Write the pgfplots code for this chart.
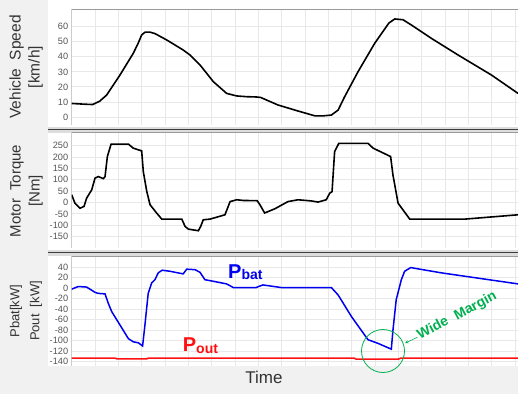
\documentclass[border=0pt]{standalone}
\usepackage{pgfplots}
\pgfplotsset{compat=1.18}
\usetikzlibrary{arrows.meta}
\usepackage{fontspec}
\setmainfont{Liberation Sans}
\definecolor{gridc}{HTML}{E8E8E8}
\definecolor{bgc}{HTML}{F1F1F1}
\definecolor{bandc}{HTML}{DDDDDD}
\definecolor{sepc}{HTML}{3C3C3C}
\definecolor{axisc}{HTML}{9A9A9A}
\definecolor{tickc}{HTML}{555555}
\definecolor{labc}{HTML}{333333}
\definecolor{pbat}{HTML}{0000F0}
\definecolor{pout}{HTML}{FF1010}
\definecolor{grn}{HTML}{00B050}
\pgfplotsset{
  panel/.style={
    scale only axis,
    anchor=north west,
    width=446.33pt,
    xmin=0, xmax=19.13,
    xtick={0,...,19}, xticklabels={},
    grid=major,
    major grid style={draw=gridc, line width=0.9pt},
    axis line style={draw=none},
    major tick length=0pt,
    tick style={draw=none},
    yticklabel style={font=\fontsize{9.2}{10}\selectfont, text=tickc},
    /pgf/number format/assume math mode=true,
  }
}
\begin{document}
\begin{tikzpicture}[x=1pt,y=1pt]
\useasboundingbox (0,0) rectangle (518,394);
\fill[bgc] (0,0) rectangle (518,394);
\fill[white] (48,394) rectangle (518,28);
% separators
\fill[bandc] (48,394-132.7) rectangle (518,394-126.8);
\draw[sepc, line width=1.6pt] (48,394-129.5) -- (518,394-129.5);
\fill[bandc] (48,394-255.7) rectangle (518,394-249.8);
\draw[sepc, line width=1.6pt] (48,394-252.6) -- (518,394-252.6);

% ---------- Panel 1: vehicle speed
\begin{axis}[panel, at={(71.67pt,384.5pt)}, height=115.5pt,
  ymin=-5.3, ymax=71.4, ytick={0,10,...,60}]
\addplot[black, line width=1.6pt] coordinates {
(0,9)(0.57,8.5)(0.9,8.3)(1.2,10.5)(1.5,14.6)(2.07,27.9)(2.64,42.3)(2.85,49)(3.0,54.5)
(3.15,56.4)(3.35,56.4)(3.57,55.4)(4.07,51.2)(4.78,44.5)(5.07,41.2)(5.5,34.6)
(6.07,23.5)(6.64,15.7)(7.07,14)(7.5,13.5)(7.93,13.3)(8.1,13)(8.84,8)(9.7,4)
(10.42,0.8)(10.8,0.8)(11.13,1.3)(11.42,4.6)(11.7,13.5)(12.27,30)(12.99,49)
(13.6,62.5)(13.85,65.1)(14.2,64.6)(14.56,61.1)(15.41,52.3)(16.56,41.2)(17.99,27.9)(19.13,15.7)
};
\draw[axisc, line width=0.8pt] (rel axis cs:0,0) -- (rel axis cs:0,1) -- (rel axis cs:1,1);
\end{axis}

% ---------- Panel 2: motor torque
\begin{axis}[panel, at={(71.67pt,262pt)}, height=116pt,
  ymin=-200, ymax=310, ytick={-150,-100,...,250}]
\addplot[black, line width=1.6pt] coordinates {
(0,34)(0.14,-3)(0.36,-25)(0.53,-17)(0.64,19)(0.86,56)(1.0,107)(1.14,114)(1.36,105)
(1.43,114)(1.53,202)(1.69,257)(2.43,257)(2.64,239)(3.0,227)(3.07,136)(3.22,48)
(3.36,-10)(3.64,-46)(3.86,-73)(4.72,-73)(4.86,-105)(5.0,-117)(5.43,-124)(5.53,-105)
(5.64,-76)(5.93,-73)(6.57,-54)(6.79,4)(7.07,12)(7.36,9)(7.95,8)(8.07,-10)(8.27,-46)
(8.70,-28)(9.27,4)(9.70,12)(10.27,7)(10.56,2)(10.91,12)(11.06,41)(11.16,48)
(11.27,224)(11.45,260)(12.70,260)(12.92,239)(13.67,202)(13.77,121)(13.99,-3)
(14.49,-73)(16.85,-73)(19.13,-54)
};
\draw[axisc, line width=0.8pt] (rel axis cs:0,0) -- (rel axis cs:0,1) -- (rel axis cs:1,1);
\end{axis}

% ---------- Panel 3: power
\begin{axis}[panel, at={(71.67pt,138pt)}, height=110pt,
  ymin=-148, ymax=61, ytick={-140,-120,...,40}]
\addplot[pout, line width=1.6pt] coordinates {
(0,-133)(1.86,-133)(1.95,-134.5)(3.2,-134.5)(3.3,-133)(12.1,-133)(12.2,-135)(14.0,-135)(14.1,-133)(19.13,-133)
};
\addplot[pbat, line width=1.5pt] coordinates {
(0,-2)(0.28,3)(0.64,2)(1.0,-8)(1.14,-10)(1.43,-11)(1.57,-29)(1.72,-45)(2.07,-70)
(2.43,-96)(2.64,-102)(2.86,-104)(3.04,-110)(3.14,-70)(3.28,-10)(3.43,10)(3.57,16)
(3.71,29)(3.88,34)(4.21,32)(4.78,27)(4.93,36)(5.29,35)(5.50,30)(5.71,16)(6.07,13)
(6.64,8)(6.93,1)(7.9,1)(8.07,4)(8.2,6)(8.99,1)(11.13,1)(11.42,-13)(11.99,-54)
(12.70,-98)(13.13,-105)(13.70,-116)(13.77,-80)(13.91,-22)(14.13,16)(14.27,32)
(14.53,39)(15.84,29)(19.13,8)
};
\draw[axisc, line width=0.8pt] (rel axis cs:0,0) -- (rel axis cs:0,1) -- (rel axis cs:1,1);
\end{axis}

% ---------- y labels
\node[rotate=90, align=center, text=labc, font=\fontsize{15.5}{19}\selectfont]
  at (26,394-67) {Vehicle\ \ Speed\\{[km/h]}};
\node[rotate=90, align=center, text=labc, font=\fontsize{15}{19}\selectfont]
  at (26.5,394-191) {Motor\ \ Torque\\{[Nm]}};
\node[rotate=90, align=center, text=labc, font=\fontsize{13}{20}\selectfont]
  at (26,394-311) {Pbat[kW]\\Pout\ \ [kW]};
\node[text=labc, font=\fontsize{17}{17}\selectfont, anchor=base] at (264,10.7) {Time};

% ---------- annotations
\node[anchor=base west, inner sep=0pt, text=pbat, font=\bfseries] at (228,115.7)
  {\fontsize{20}{20}\selectfont P\raisebox{-1.5pt}{\fontsize{14}{14}\selectfont bat}};
\node[anchor=base west, inner sep=0pt, text=pout, font=\bfseries] at (182.7,42.3)
  {\fontsize{20}{20}\selectfont P\raisebox{-1.5pt}{\fontsize{14}{14}\selectfont out}};
\draw[grn, line width=0.8pt] (383,394-351) circle (21.5);
\draw[grn, line width=0.6pt, -{Stealth[length=3.5pt,width=3pt]}] (417.3,394-337.3) -- (405,394-343.2);
\node[anchor=base west, inner sep=0pt, rotate=28, text=grn, font=\fontsize{14}{14}\selectfont\bfseries]
  at (420,394-340) {Wide\hspace{0.6em}Margin};
\end{tikzpicture}
\end{document}
